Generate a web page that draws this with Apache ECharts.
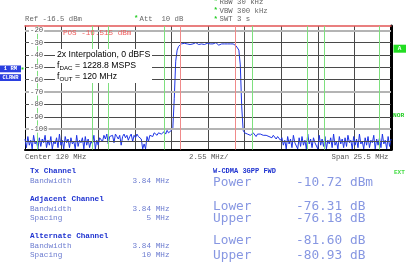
<!DOCTYPE html>
<html><head><meta charset="utf-8">
<script src="https://cdn.jsdelivr.net/npm/echarts@6/dist/echarts.min.js"></script>
<style>html,body{margin:0;padding:0;background:#fff}#c{width:406px;height:262px}</style>
</head><body><div id="c"></div>
<script>
// ---------- data ----------
const refLevel = -16.5, bottomLevel = -116.5;
const spanMHz = 25.5, divMHz = 2.55, centerMHz = 120;
const stepMHz = 0.1; // trace sample spacing (offset from left edge of span)
const yGridLevels = [-20, -30, -40, -50, -60, -70, -80, -90, -100, -110];
const yTickLabels = [-20, -30, -40, -50, -60, -70, -80, -90, -100];
const lightLevels = [-20, -70, -100];
const txEdges = [10.83, 14.67];
const adjEdges = [5.83, 9.67, 15.83, 19.67];
const altEdges = [0.83, 4.67, 20.83, 24.67];
const noiseLeft = [-108,-115,-106,-113,-109,-116,-105,-112,-110,-116,
  -107,-114,-108,-111,-105,-115,-109,-113,-106,-116,
  -110,-112,-107,-115,-104,-113,-109,-116,-106,-111,
  -108,-115,-107,-112,-110,-116,-105,-114,-109,-111,
  -107,-116,-106,-113,-108,-115,-110,-112,-105,-116,
  -109,-113,-107];
const floorLeft = [-106,-110,-105,-108,-104,-112,-106,-107,-105,-111,
  -104,-106,-108,-105,-113,-106,-104,-107,-105,-109,
  -106,-104,-110,-105,-107,-104,-106,-105,
  -108,-116,-112,-116,-106,-110,
  -105,-104,-106,-103,-104,-105,-103,-102,-104,-103,
  -102,-104,-101,-103,-102,-101];
const channel = [-99,-75,-45,-36,-33,
  -32,-31,-31.5,-30.5,-32,-31,-30,-31.5,-30.5,-31,
  -32,-30,-31,-31.5,-30.5,-31,-30,-31.5,-31,-30.5,
  -32,-31,-30.5,-31,-31.5,-30,-31,-32,-30.5,-31,
  -31.5,-31,-30.5,-31,-32,-31,-31.5,-31,-32,-32.5,
  -33,
  -36,-48,-82,-101];
const floorRight = [-103,-102,-104,-103,-105,-104,-103,-104,-106,-104,
  -105,-104,-103,-105,-106,-105,-104,-106,-105,-107,
  -105,-106,-108,-106,-107,-109];
const noiseRight = [-107,-113,-109,-116,-106,-112,-108,-115,-105,-111,
  -110,-116,-107,-114,-106,-113,-109,-116,-104,-112,
  -108,-115,-107,-111,-110,-116,-105,-113,-108,-114,
  -106,-116,-109,-112,-107,-115,-104,-113,-110,-116,
  -106,-112,-108,-115,-107,-114,-105,-111,-109,-116,
  -106,-113,-108,-115,-104,-112,-110,-116,-107,-113,
  -106,-115,-109,-111,-105,-116,-108,-113,-107,-115,
  -104,-112,-109,-116,-106,-114,-108];
const traceDbm = [].concat(noiseLeft, floorLeft, channel, floorRight, noiseRight);

const headerTexts = ['Ref -16.5 dBm', 'Att  10 dB', 'RBW 30 kHz', 'VBW 300 kHz', 'SWT 3 s'];
const markerText = 'POS -16.515 dBm';
const footerTexts = ['Center 120 MHz', '2.55 MHz/', 'Span 25.5 MHz'];
const tableLabels = ['Tx Channel','Bandwidth','Adjacent Channel','Bandwidth','Spacing','Alternate Channel','Bandwidth','Spacing'];
const tableValues = ['', '3.84 MHz', '', '3.84 MHz', '5 MHz', '', '3.84 MHz', '10 MHz'];
const tableIsHeader = [true,false,true,false,false,true,false,false];
const resultTitle = 'W-CDMA 3GPP FWD';
const resultLabels = ['Power','Lower','Upper','Lower','Upper'];
const resultValues = ['-10.72 dBm','-76.31 dB','-76.18 dB','-81.60 dB','-80.93 dB'];

// ---------- chart ----------
const chart = echarts.init(document.getElementById('c'), null, {renderer: 'canvas'});
const traceData = traceDbm.map((v, i) => [+(i * stepMHz).toFixed(2), v]);

const hLines = yGridLevels.map(v => ({
  yAxis: v,
  lineStyle: lightLevels.includes(v) ? {color: '#b4b4b4', width: 2, type: 'solid'} : {color: '#4a4a4a', width: 1, type: 'solid'}
}));
const vLines = [].concat(
  altEdges.map(v => ({xAxis: v, lineStyle: {color: '#7ee07e', width: 1, type: 'solid'}})),
  adjEdges.map(v => ({xAxis: v, lineStyle: {color: '#7ee07e', width: 1, type: 'solid'}})),
  txEdges.map(v => ({xAxis: v, lineStyle: {color: '#f08a8a', width: 1, type: 'solid'}}))
);
const noAx = {axisTick: {show: false}, axisLabel: {show: false}};
chart.setOption({
  animation: false,
  grid: {left: 25, right: 15, top: 26, bottom: 112.5},
  xAxis: [
    Object.assign({type: 'value', min: 0, max: spanMHz, interval: divMHz,
      axisLine: {show: true, onZero: false, lineStyle: {color: '#000', width: 2}},
      splitLine: {show: true, lineStyle: {color: '#4a4a4a', width: 1}}}, noAx),
    Object.assign({type: 'value', position: 'top', min: 0, max: spanMHz,
      axisLine: {show: true, onZero: false, lineStyle: {color: '#e25555', width: 1.5}},
      splitLine: {show: false}}, noAx)
  ],
  yAxis: [
    Object.assign({type: 'value', min: bottomLevel, max: refLevel,
      axisLine: {show: true, onZero: false, lineStyle: {color: '#000', width: 1}},
      splitLine: {show: false}}, noAx),
    Object.assign({type: 'value', position: 'right', min: bottomLevel, max: refLevel,
      axisLine: {show: true, onZero: false, lineStyle: {color: '#000', width: 3}},
      splitLine: {show: false}}, noAx)
  ],
  series: [
    {type: 'line', data: [], z: 1, markLine: {silent: true, symbol: 'none', animation: false, label: {show: false}, data: hLines}},
    {type: 'line', data: [], z: 2, markLine: {silent: true, symbol: 'none', animation: false, label: {show: false}, data: vLines}},
    {type: 'line', data: traceData, z: 3, showSymbol: false, symbol: 'none', clip: true,
      lineStyle: {color: '#1e34e4', width: 1}}
  ]
});

// ---------- text / decorations ----------
const mono = (s, b) => (b ? 'bold ' : '') + s + 'px "Liberation Mono", monospace';
function T(x, y, text, fill, font, align, extra) {
  return {type: 'text', z: 100, silent: true,
    style: Object.assign({x: x, y: y, text: text, fill: fill, font: font, align: align || 'left', verticalAlign: 'middle'}, extra || {})};
}
const g = [];
// y labels inside plot
yTickLabels.forEach(v => {
  const py = chart.convertToPixel({yAxisIndex: 0}, v);
  g.push(T(29, py, String(v), '#555', mono(7.3), 'left', {backgroundColor: '#fff', padding: [0, 1, 0, 1]}));
});
// header
g.push(T(25, 19.5, headerTexts[0], '#666', mono(7.3)));
g.push(T(134, 18.5, '*', '#22cc22', mono(7.3, true)));
g.push(T(139.5, 19.5, headerTexts[1], '#666', mono(7.3)));
g.push(T(213.5, 1.5, '*', '#22cc22', mono(7.3, true)));
g.push(T(219.5, 2, headerTexts[2], '#666', mono(7.3)));
g.push(T(213.5, 10.5, '*', '#22cc22', mono(7.3, true)));
g.push(T(219.5, 11, headerTexts[3], '#666', mono(7.3)));
g.push(T(213.5, 19, '*', '#22cc22', mono(7.3, true)));
g.push(T(219.5, 19.5, headerTexts[4], '#666', mono(7.3)));
// marker readout
g.push(T(63, 32.5, markerText, '#f05a5a', mono(7.6)));
// left side boxes
g.push({type: 'rect', z: 100, silent: true, shape: {x: 0, y: 65.5, width: 21, height: 6.8}, style: {fill: '#2a3fe0'}});
g.push(T(10.5, 69, '1 RM', '#fff', mono(5.6, true), 'center'));
g.push({type: 'rect', z: 100, silent: true, shape: {x: 0, y: 74.2, width: 21, height: 6.8}, style: {fill: '#2a3fe0'}});
g.push(T(10.5, 77.7, 'CLRWR', '#fff', mono(5.4, true), 'center'));
g.push({type: 'rect', z: 100, silent: true, shape: {x: 21.5, y: 67.5, width: 2, height: 2}, style: {fill: '#22cc22'}});
// right side
g.push({type: 'rect', z: 100, silent: true, shape: {x: 393.5, y: 44.7, width: 12.5, height: 8}, style: {fill: '#22dd22'}});
g.push(T(399.5, 48.8, 'A', '#fff', mono(6, true), 'center'));
g.push(T(393, 115, 'NOR', '#22cc22', mono(6.2, true)));
g.push(T(394, 172, 'EXT', '#44dd44', mono(6, true)));
// footer
g.push(T(25, 157, footerTexts[0], '#555', mono(7.3)));
g.push(T(189, 157, footerTexts[1], '#555', mono(7.3)));
g.push(T(388.5, 157, footerTexts[2], '#555', mono(7.3), 'right'));
// annotation block
g.push({type: 'rect', z: 99, silent: true, shape: {x: 55, y: 49, width: 97, height: 34}, style: {fill: '#fff'}});
g.push({type: 'text', z: 100, silent: true, style: {
  x: 57, y: 48.7, verticalAlign: 'top', align: 'left',
  text: '{a|2x Interpolation, 0 dBFS}\n{a|f}{s|DAC}{a| = 1228.8 MSPS}\n{a|f}{s|OUT}{a| = 120 MHz}',
  rich: {
    a: {font: '8.7px "Liberation Sans", Arial, sans-serif', fill: '#000', lineHeight: 11.2, verticalAlign: 'middle'},
    s: {font: '6.2px "Liberation Sans", Arial, sans-serif', fill: '#000', lineHeight: 4.5, verticalAlign: 'bottom'}
  }
}});
// lower-left table
const tableY = [171, 180.5, 199, 208.5, 217.8, 236, 245.7, 255];
tableLabels.forEach((t, i) => {
  g.push(T(30, tableY[i], t, tableIsHeader[i] ? '#1f33d0' : '#6c7cd0', mono(7.7, tableIsHeader[i])));
  if (tableValues[i]) g.push(T(169.5, tableY[i], tableValues[i], '#6c7cd0', mono(7.7), 'right'));
});
// lower-right results
g.push(T(213, 171, resultTitle, '#1f33d0', mono(7, true)));
const resY = [182.5, 206.7, 218.3, 241, 255.7];
resultLabels.forEach((t, i) => {
  g.push(T(213, resY[i], t, '#8797e2', '12.8px "DejaVu Sans Mono", monospace'));
  g.push(T(296, resY[i], resultValues[i], '#8797e2', '12.8px "DejaVu Sans Mono", monospace'));
});
chart.setOption({graphic: g});
</script>
</body></html>
